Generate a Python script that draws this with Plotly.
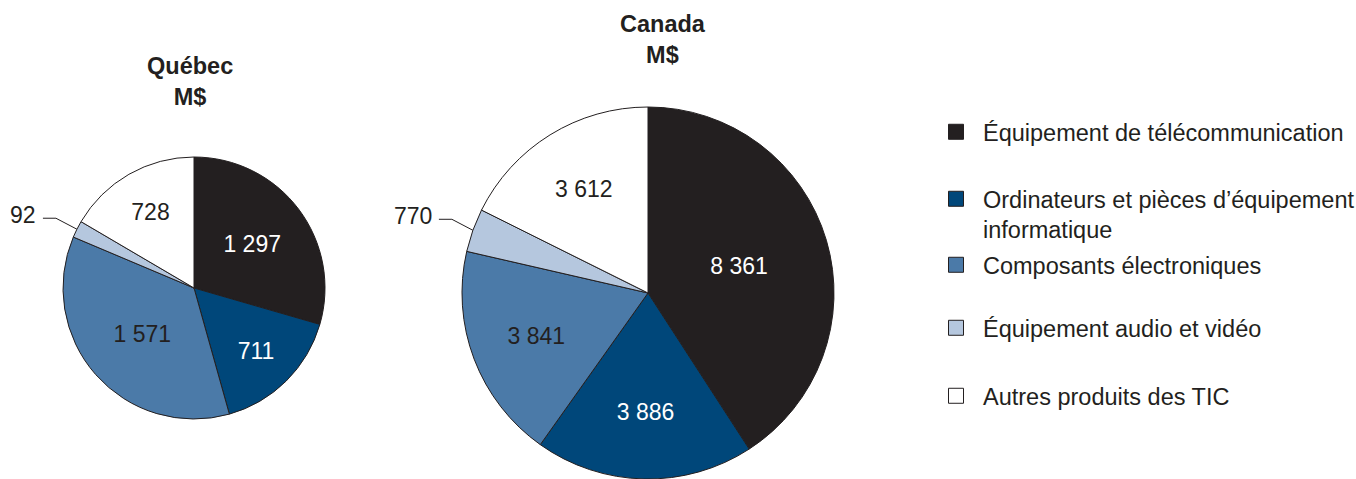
import math
import plotly.graph_objects as go

# ---------------- data ----------------
categories = [
    "Équipement de télécommunication",
    "Ordinateurs et pièces d’équipement<br>informatique",
    "Composants électroniques",
    "Équipement audio et vidéo",
    "Autres produits des TIC",
]
quebec_values = [1297, 711, 1571, 92, 728]
canada_values = [8361, 3886, 3841, 770, 3612]
pie_titles = ["Québec<br>M$", "Canada<br>M$"]
colors = ["#231f20", "#00477a", "#4b7aa8", "#b5c7de", "#ffffff"]
text_colors = ["#ffffff", "#ffffff", "#231f20", "#231f20", "#231f20"]
small_index = 3  # slice labelled outside with a leader line

# ---------------- layout helpers ----------------
W, H = 1356, 479
FONT = "Liberation Sans, Arial, Helvetica, sans-serif"


def px(x):
    return x / W


def py(y):
    return 1 - y / H


# pie geometry in pixels: (cx, cy, r)
pies = [
    dict(cx=194, cy=288, r=131, values=quebec_values, title=pie_titles[0], tx=190, ty=82),
    dict(cx=648, cy=293, r=186, values=canada_values, title=pie_titles[1], tx=663, ty=39),
]

fig = go.Figure()
shapes = []
annotations = []

for p in pies:
    vals = p["values"]
    tmpl = ["" if i == small_index else "%{value:,.0f}" for i in range(len(vals))]
    fig.add_trace(go.Pie(
        labels=categories,
        values=vals,
        sort=False,
        direction="clockwise",
        rotation=0,
        marker=dict(colors=colors, line=dict(color="#231f20", width=1)),
        texttemplate=tmpl,
        textposition="inside",
        insidetextorientation="horizontal",
        insidetextfont=dict(color=text_colors, size=23, family=FONT),
        showlegend=False,
        hoverinfo="label+value",
        domain=dict(x=[px(p["cx"] - p["r"]), px(p["cx"] + p["r"])],
                    y=[py(p["cy"] + p["r"]), py(p["cy"] - p["r"])]),
    ))
    # leader line for small slice, anchored at the slice mid-angle
    total = sum(vals)
    before = sum(vals[:small_index])
    theta = 2 * math.pi * (before + vals[small_index] / 2) / total
    ex = p["cx"] + p["r"] * math.sin(theta)
    ey = p["cy"] - p["r"] * math.cos(theta)
    elx, ely = ex - 21, ey - 11
    hx = elx - 13
    shapes.append(dict(type="path", xref="paper", yref="paper",
                       path=f"M {px(ex)},{py(ey)} L {px(elx)},{py(ely)} L {px(hx)},{py(ely)}",
                       line=dict(color="#231f20", width=1)))
    annotations.append(dict(text=f"{vals[small_index]:,}".replace(",", " "),
                            x=px(hx - 5), y=py(ely - 3), xref="paper", yref="paper",
                            xanchor="right", yanchor="middle", showarrow=False,
                            font=dict(size=23, family=FONT, color="#231f20")))
    annotations.append(dict(text="<b>" + p["title"].replace("<br>", "</b><br><b>") + "</b>",
                            x=px(p["tx"]), y=py(p["ty"]), xref="paper", yref="paper",
                            xanchor="center", yanchor="middle", showarrow=False,
                            font=dict(size=23.5, family=FONT, color="#231f20")))

# legend: one library legend per entry so the spacing follows the reference
legend_y = [131, 198, 264, 327, 395]
legend_names = ["legend", "legend2", "legend3", "legend4", "legend5"]
for i, name in enumerate(categories):
    fig.add_trace(go.Scatter(
        x=[None], y=[None], mode="markers", name=name,
        marker=dict(symbol="square", size=15, color=colors[i],
                    line=dict(color="#231f20", width=1)),
        legend=legend_names[i], showlegend=True, hoverinfo="skip",
    ))

layout_legends = {}
for i, ln in enumerate(legend_names):
    layout_legends[ln] = dict(
        x=px(929), y=py(legend_y[i] - 21), xanchor="left", yanchor="top",
        bgcolor="rgba(0,0,0,0)", borderwidth=0, itemwidth=44, valign="top",
        font=dict(size=23.5, family=FONT, color="#231f20"),
        itemclick=False, itemdoubleclick=False,
    )

fig.update_layout(
    width=W, height=H,
    margin=dict(l=0, r=0, t=0, b=0, autoexpand=False),
    paper_bgcolor="white", plot_bgcolor="white",
    separators=", ",
    xaxis=dict(visible=False), yaxis=dict(visible=False),
    shapes=shapes, annotations=annotations,
    font=dict(family=FONT, color="#231f20"),
    **layout_legends,
)

fig.write_html("out.html",
               config={"displayModeBar": False},
               post_script="document.body.style.margin='0';document.body.style.overflow='hidden';")
